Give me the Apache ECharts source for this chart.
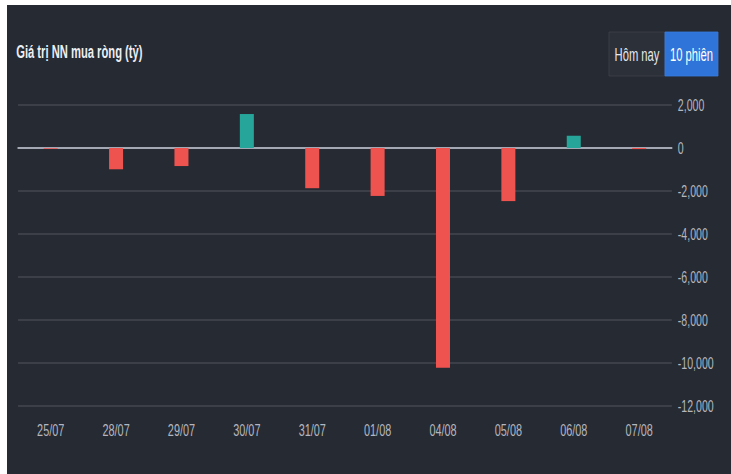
<!DOCTYPE html>
<html>
<head>
<meta charset="utf-8">
<script src="https://cdn.jsdelivr.net/npm/echarts@6/dist/echarts.min.js"></script>
<style>
  html, body { margin: 0; padding: 0; background: #ffffff; width: 731px; height: 474px; overflow: hidden; }
  #panel { position: absolute; left: 7px; top: 5px; width: 724px; height: 469px; background: #262a32; overflow: hidden; }
  #chart { position: absolute; left: 0; top: 0; width: 1131.25px; height: 469px; transform: scaleX(0.64); transform-origin: 0 0; }
</style>
</head>
<body>
<div id="panel"><div id="chart"></div></div>
<script>
const categories = ['25/07', '28/07', '29/07', '30/07', '31/07', '01/08', '04/08', '05/08', '06/08', '07/08'];
const netBuy = [-35, -990, -840, 1580, -1870, -2230, -10220, -2470, 570, -50];
const yMin = -12000, yMax = 2000, yStep = 2000;
const titleText = 'Giá trị NN mua ròng (tỷ)';
const buttonLabels = ['Hôm nay', '10 phiên'];

const UP = '#26a69a', DOWN = '#ef5350';
const chart = echarts.init(document.getElementById('chart'), null, { renderer: 'svg' });
const FONT = '"Liberation Sans", Arial, sans-serif';

chart.setOption({
  backgroundColor: 'transparent',
  animation: false,
  title: {
    text: titleText,
    left: 9.4, top: 33,
    textStyle: { color: '#eceef2', fontSize: 17.5, fontWeight: 'bold', fontFamily: FONT }
  },
  graphic: [
    { type: 'rect', shape: { x: 940.6, y: 27, width: 87.5, height: 44 },
      style: { fill: '#2c3038', stroke: '#3d414b', lineWidth: 1 } },
    { type: 'text', x: 984.4, y: 50,
      style: { text: buttonLabels[0], fill: '#e6e8ec', font: '17.5px ' + FONT, align: 'center', verticalAlign: 'middle' } },
    { type: 'rect', shape: { x: 1028.1, y: 27, width: 82.8, height: 44 },
      style: { fill: '#2f74d9', stroke: '#3a7ee0', lineWidth: 1 } },
    { type: 'text', x: 1069.5, y: 50,
      style: { text: buttonLabels[1], fill: '#ffffff', font: '17.5px ' + FONT, align: 'center', verticalAlign: 'middle' } }
  ],
  grid: { left: 17.2, right: 92.2, top: 100, bottom: 68, containLabel: false },
  xAxis: [{
    type: 'category',
    data: categories,
    axisLine: { show: false, onZero: false },
    axisTick: { show: false },
    axisLabel: { color: '#b3b6bf', fontSize: 17, margin: 16, fontFamily: FONT },
    splitLine: { show: false }
  }, {
    type: 'category',
    data: categories,
    position: 'bottom',
    axisLine: { show: true, onZero: true, lineStyle: { color: '#a4a7b4', width: 2 } },
    axisTick: { show: false },
    axisLabel: { show: false },
    splitLine: { show: false }
  }],
  yAxis: {
    type: 'value',
    position: 'right',
    min: yMin, max: yMax, interval: yStep,
    axisLine: { show: false },
    axisTick: { show: false },
    axisLabel: {
      color: '#b3b6bf', fontSize: 16.5, margin: 9.4, fontFamily: FONT,
      formatter: v => v.toLocaleString('en-US')
    },
    splitLine: { lineStyle: { color: '#3c3f48', width: 2 } }
  },
  series: [{
    type: 'bar',
    xAxisIndex: 0,
    data: netBuy,
    barWidth: 21.9,
    z: 3,
    itemStyle: { color: p => (p.value >= 0 ? UP : DOWN) }
  }]
});
</script>
</body>
</html>
